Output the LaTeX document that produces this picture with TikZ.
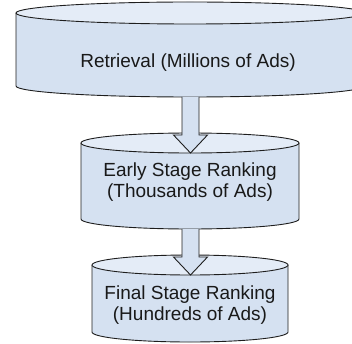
\documentclass[tikz,border=0pt]{standalone}
\usepackage{fontspec}
\setmainfont{Liberation Sans}
\usetikzlibrary{calc}
\definecolor{bodyblue}{HTML}{D5E1F1}
\definecolor{topblue}{HTML}{E4ECF7}
\definecolor{edge}{HTML}{1E1E1E}
\tikzset{
  cylbody/.style={fill=bodyblue},
  cyltop/.style={fill=topblue, draw=edge, line width=0.9pt},
  cyledge/.style={draw=edge, line width=0.9pt},
  label/.style={font=\fontsize{19}{21}\selectfont, align=center, text=black!90},
  arrowfill/.style={fill=bodyblue},
  arrowedge/.style={draw=edge, line width=0.9pt, line join=miter},
}
\newcommand{\mycyl}[6]{% xl, xr, ytop, ybot, rx, ry
  \fill[cylbody] (#1,#3) -- (#1,#4) arc[start angle=180,end angle=360,x radius=#5,y radius=#6] -- (#2,#3) arc[start angle=0,end angle=180,x radius=#5,y radius=#6] -- cycle;
  \draw[cyledge] (#1,#3) -- (#1,#4) arc[start angle=180,end angle=360,x radius=#5,y radius=#6] -- (#2,#3);
  \path[cyltop] ({(#1+#2)/2},#3) ellipse[x radius=#5,y radius=#6];
}
\newcommand{\myarrow}[2]{% from, to
  \fill[arrowfill] ($(#1)+(-8.5,0)$) -- ($(#1)+(8.5,0)$) -- ($(#2)+(8.5,18)$) -- ($(#2)+(17,18)$) -- (#2) -- ($(#2)+(-17,18)$) -- ($(#2)+(-8.5,18)$) -- cycle;
  \draw[arrowedge] ($(#1)+(8.5,0)$) -- ($(#2)+(8.5,18)$) -- ($(#2)+(17,18)$) -- (#2) -- ($(#2)+(-17,18)$) -- ($(#2)+(-8.5,18)$) -- ($(#1)+(-8.5,0)$);
}
\begin{document}
\begin{tikzpicture}[x=1pt,y=1pt]
\useasboundingbox (0,0) rectangle (352,343);
\clip (0,0) rectangle (352,343);
% cylinders
\mycyl{16}{364}{330}{257}{174}{11}
\mycyl{81}{299}{200}{124}{109}{10}
\mycyl{92}{288}{78}{11}{98}{10}
% anchor coordinates
\coordinate (c1b) at (190.5,246);
\coordinate (c2t) at (190.5,190);
\coordinate (c2b) at (190.5,114);
\coordinate (c3t) at (190.5,68);
% labels
\node[label] (retrieval) at (188,280) {Retrieval (Millions of Ads)};
\node[label] (early) at (190,160.5) {Early Stage Ranking\\(Thousands of Ads)};
\node[label] (final) at (190,38) {Final Stage Ranking\\(Hundreds of Ads)};
% arrows
\myarrow{c1b}{c2t}
\myarrow{c2b}{c3t}
\end{tikzpicture}
\end{document}
